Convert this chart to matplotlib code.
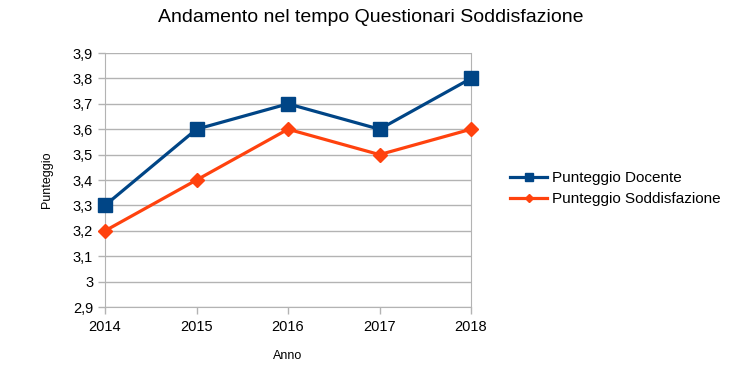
import matplotlib.pyplot as plt
from matplotlib.ticker import FuncFormatter

plt.rcParams['font.family'] = ['Liberation Sans', 'DejaVu Sans']

anni = [2014, 2015, 2016, 2017, 2018]
docente = [3.3, 3.6, 3.7, 3.6, 3.8]
soddisfazione = [3.2, 3.4, 3.6, 3.5, 3.6]

blu = '#004586'
arancio = '#ff420e'
grigio = '#b3b3b3'

fig = plt.figure(figsize=(7.42, 3.75), dpi=100)
ax = fig.add_axes([0.1415, 0.1813, 0.4933, 0.6773])

ax.plot(anni, docente, color=blu, lw=2.3, marker='s', ms=10, label='Punteggio Docente',
        zorder=3, clip_on=False)
ax.plot(anni, soddisfazione, color=arancio, lw=2.3, marker='D', ms=7.5, label='Punteggio Soddisfazione',
        zorder=3, clip_on=False)

ax.set_xlim(2014, 2018)
ax.set_ylim(2.9, 3.9)
ax.set_xticks(anni)
ax.set_yticks([2.9 + 0.1 * i for i in range(11)])
ax.yaxis.set_major_formatter(FuncFormatter(lambda v, p: ('%.1f' % v).rstrip('0').rstrip('.').replace('.', ',')))
ax.grid(axis='y', color=grigio, lw=1)
ax.set_axisbelow(True)
ax.spines['top'].set_visible(False)
for s in ['left', 'bottom', 'right']:
    ax.spines[s].set_color(grigio)
ax.tick_params(colors=grigio, labelcolor='black', labelsize=10.5, length=5, width=1)
ax.tick_params(axis='x', pad=4)

ax.set_xlabel('Anno', fontsize=9, labelpad=12)
ax.set_ylabel('Punteggio', fontsize=9, labelpad=14)

fig.suptitle('Andamento nel tempo Questionari Soddisfazione', x=0.5, y=0.975, fontsize=14)

ax.legend(loc='center left', bbox_to_anchor=(1.07, 0.465), frameon=False, fontsize=11,
          handlelength=2.4, handletextpad=0.3, labelspacing=0.45, markerscale=0.6)

fig.savefig('out.png', dpi=100)
